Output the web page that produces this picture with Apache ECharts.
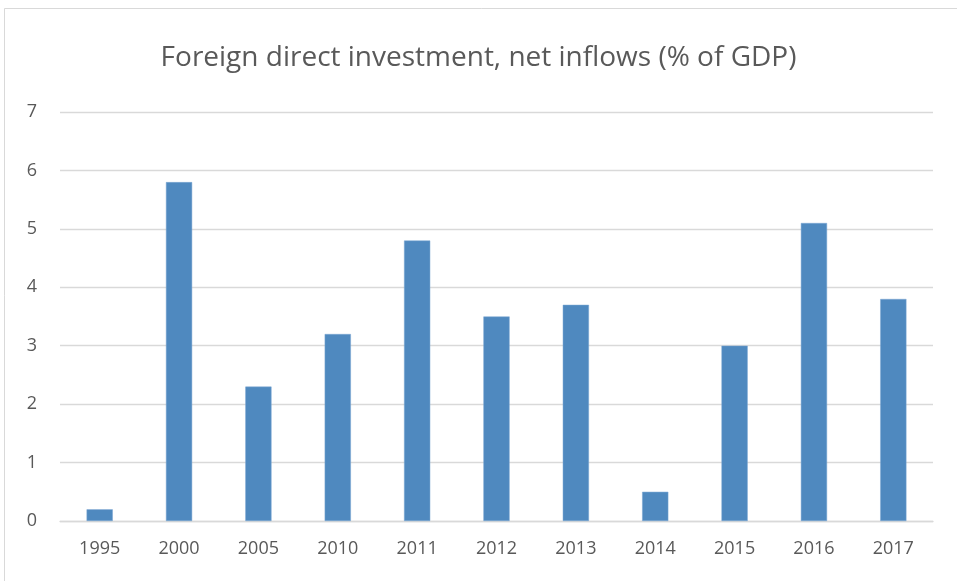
<!DOCTYPE html>
<html>
<head>
<meta charset="utf-8">
<script src="https://cdn.jsdelivr.net/npm/echarts@6/dist/echarts.min.js"></script>
<style>
html,body{margin:0;padding:0;background:#fff;}
#chart{width:957px;height:581px;}
</style>
</head>
<body>
<div id="chart"></div>
<script>
const categories = ['1995','2000','2005','2010','2011','2012','2013','2014','2015','2016','2017'];
const fdiValues = [0.2, 5.8, 2.3, 3.2, 4.8, 3.5, 3.7, 0.5, 3.0, 5.1, 3.8];
const titleText = 'Foreign direct investment, net inflows (% of GDP)';

const chart = echarts.init(document.getElementById('chart'), null, {renderer: 'canvas'});
chart.setOption({
  backgroundColor: '#ffffff',
  animation: false,
  graphic: [{
    type: 'rect',
    shape: {x: 4.5, y: 8.5, width: 960, height: 580},
    style: {fill: 'none', stroke: '#d9d9d9', lineWidth: 1},
    silent: true
  }],
  title: {
    text: titleText,
    left: 'center',
    top: 39,
    textStyle: {fontFamily: 'Open Sans', fontSize: 28, fontWeight: 'normal', color: '#595959'}
  },
  grid: {left: 60, right: 24, top: 112, bottom: 60, containLabel: false},
  xAxis: {
    type: 'category',
    data: categories,
    axisLine: {show: true, lineStyle: {color: '#d9d9d9', width: 1.3}},
    axisTick: {show: false},
    axisLabel: {fontFamily: 'Open Sans', fontSize: 18, color: '#595959', margin: 19}
  },
  yAxis: {
    type: 'value',
    min: 0, max: 7, interval: 1,
    axisLine: {show: false},
    axisTick: {show: false},
    splitLine: {lineStyle: {color: '#d9d9d9', width: 1.3}},
    axisLabel: {fontFamily: 'Open Sans', fontSize: 18, color: '#595959', margin: 23}
  },
  series: [{
    type: 'bar',
    data: fdiValues,
    barWidth: '33%',
    itemStyle: {color: '#4f89bf', borderColor: '#7aa6d2', borderWidth: 0.5}
  }]
});
</script>
</body>
</html>
